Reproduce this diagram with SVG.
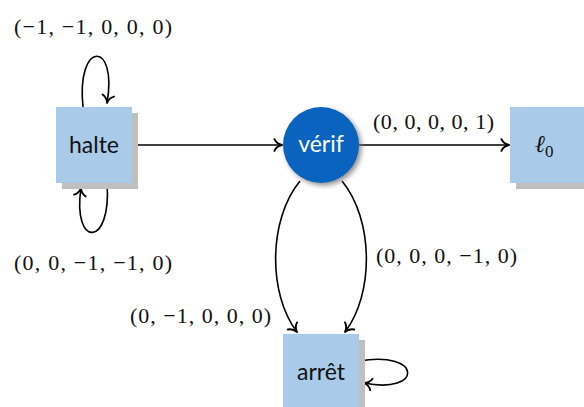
<svg xmlns="http://www.w3.org/2000/svg" width="584" height="407" viewBox="0 0 584 407">
<style>
.box{fill:#a9cbe9}
.sh{fill:#bfbfbf}
.nl{font-family:Lato,"Open Sans",sans-serif;font-size:23px;fill:#111;text-anchor:middle}
.lb{font-family:"Liberation Serif","DejaVu Serif",serif;font-size:22px;fill:#111}
.e{fill:none;stroke:#000;stroke-width:1.6;marker-end:url(#a)}
</style>
<defs>
<marker id="a" markerWidth="14" markerHeight="14" viewBox="-8 -6 10 12" refX="0" refY="0" orient="auto" markerUnits="userSpaceOnUse">
<path d="M-6.5,-5 C-5,-1.8 -2,-0.4 0,0 C-2,0.4 -5,1.8 -6.5,5" fill="none" stroke="#000" stroke-width="1.6" stroke-linecap="round" stroke-linejoin="round"/>
</marker>
<filter id="g" x="-30%" y="-30%" width="160%" height="160%">
<feGaussianBlur stdDeviation="2.5"/>
</filter>
</defs>
<g id="connectors">
<path class="e" d="M132,145 L282,145"/>
<path class="e" d="M359,145 L509,145"/>
<path class="e" d="M83,107 C76,40 118,40 107,103"/>
<path class="e" d="M107,183 C112,248 72,248 81,188"/>
<path class="e" d="M300,181 C268,220 268,294 297,332"/>
<path class="e" d="M342,181 C374,220 374,294 345,332"/>
<path class="e" d="M359,361 C423,350 423,395 364,383"/>
</g>
<g id="halte">
<rect class="sh" x="62" y="113" width="76" height="76"/>
<rect class="box" x="56" y="107" width="76" height="76"/>
<text class="nl" x="94" y="153">halte</text>
</g>
<g id="verif">
<circle cx="323.5" cy="147.5" r="38" fill="#777" opacity="0.8" filter="url(#g)"/>
<circle cx="321" cy="145" r="38" fill="#0a63bf"/>
<text class="nl" x="321" y="152" style="fill:#fff">vérif</text>
</g>
<g id="l0">
<rect class="sh" x="516" y="113" width="76" height="76"/>
<rect class="box" x="510" y="107" width="76" height="76"/>
<text x="535" y="152" font-family="'Liberation Serif','DejaVu Serif',serif" font-size="24" font-style="italic" fill="#111">ℓ<tspan font-style="normal" font-size="17" dy="5">0</tspan></text>
</g>
<g id="arret">
<rect class="sh" x="289" y="340" width="76" height="76"/>
<rect class="box" x="283" y="334" width="76" height="76"/>
<text class="nl" x="321" y="380">arrêt</text>
</g>
<g id="labels">
<text class="lb" x="14" y="34" textLength="158" lengthAdjust="spacing">(−1, −1, 0, 0, 0)</text>
<text class="lb" x="14" y="270" textLength="158" lengthAdjust="spacing">(0, 0, −1, −1, 0)</text>
<text class="lb" x="130" y="323" textLength="141" lengthAdjust="spacing">(0, −1, 0, 0, 0)</text>
<text class="lb" x="376" y="263" textLength="141" lengthAdjust="spacing">(0, 0, 0, −1, 0)</text>
<text class="lb" x="373" y="129" textLength="121" lengthAdjust="spacing">(0, 0, 0, 0, 1)</text>
</g>
</svg>
